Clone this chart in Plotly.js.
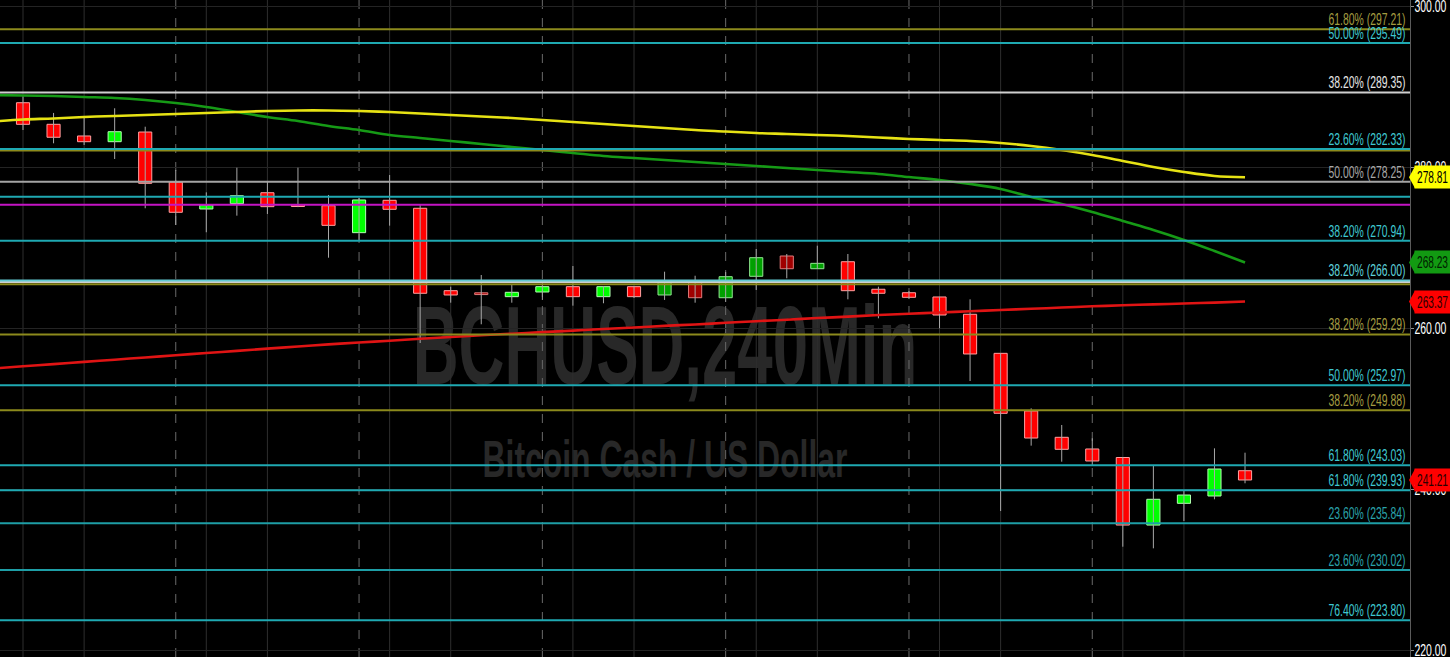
<!DOCTYPE html>
<html>
<head>
<meta charset="utf-8">
<script src="https://cdn.plot.ly/plotly-3.0.1.min.js"></script>
<style>
  html, body { margin:0; padding:0; background:#000; width:1450px; height:657px; overflow:hidden; }
  #wrap { position:relative; width:1450px; height:657px; }
  .wm { position:absolute; left:0; width:1330px; text-align:center; color:#282828; font-family:"Liberation Sans",Arial,sans-serif; font-weight:bold; white-space:nowrap; line-height:1; z-index:0; }
  #wm1 { top:290px; font-size:112px; transform:scale(0.567,1); transform-origin:50% 0; }
  #wm2 { top:433px; font-size:52px; transform:scale(0.613,1); transform-origin:50% 0; }
  #chart { position:absolute; left:0; top:0; z-index:1; }
</style>
</head>
<body>
<div id="wrap">
  <div class="wm" id="wm1">BCHUSD,240Min</div>
  <div class="wm" id="wm2">Bitcoin Cash / US Dollar</div>
  <div id="chart"></div>
</div>
<script>
// ---- data (4h candles, BCH/USD) ----
const open  = [288.07,285.39,283.94,283.23,284.43,278.22,274.87,275.53,276.89,275.37,275.28,271.93,275.95,274.96,264.72,264.31,263.98,264.56,265.22,263.98,265.22,264.19,265.84,263.85,266.51,269.03,267.45,268.32,264.90,264.47,263.94,261.79,256.94,249.78,246.51,245.06,244.00,235.61,238.31,239.22,242.36];
const high  = [288.91,286.80,286.34,287.38,285.09,279.71,276.94,280.00,278.22,280.00,276.61,276.24,279.09,275.37,265.22,266.67,265.43,265.68,267.79,265.30,265.30,267.08,266.58,267.04,269.90,269.28,270.31,269.28,265.22,264.68,263.94,263.65,256.94,250.11,248.04,246.39,244.06,243.07,239.96,245.14,244.60];
const low   = [284.68,283.03,282.82,281.08,274.96,272.88,271.98,274.04,274.25,275.10,268.82,271.02,272.80,258.22,263.23,260.55,263.23,263.57,262.86,263.16,263.81,263.57,263.23,263.32,264.81,266.26,267.45,263.65,261.29,263.69,260.05,253.50,237.35,245.47,243.48,243.07,232.92,232.72,236.11,238.81,240.80];
const close = [285.39,283.78,283.23,284.47,278.06,274.46,275.37,276.52,275.16,275.18,272.84,275.99,274.83,264.40,264.19,264.24,264.52,265.22,263.98,265.22,263.98,265.84,263.85,266.46,268.82,267.45,268.12,264.72,264.40,263.90,261.70,256.86,249.49,246.42,245.02,243.57,235.61,238.81,239.34,242.57,241.21];
// moving averages, first point is one bar before the first candle
const maYellow = [285.74,285.99,286.11,286.30,286.42,286.55,286.67,286.80,286.92,287.04,287.11,287.11,287.04,286.92,286.73,286.55,286.36,286.17,285.93,285.68,285.43,285.18,284.93,284.68,284.50,284.31,284.19,284.06,283.94,283.75,283.57,283.44,283.32,283.07,282.70,282.20,281.58,280.83,280.09,279.47,278.97,278.81];
const maGreen  = [289.03,288.97,288.91,288.78,288.66,288.41,288.04,287.54,286.92,286.30,285.80,285.18,284.68,284.06,283.69,283.32,282.95,282.57,282.20,281.83,281.45,281.20,280.96,280.71,280.46,280.21,279.96,279.71,279.47,279.22,278.84,278.47,277.98,277.36,276.36,275.49,274.50,273.38,272.26,271.02,269.65,268.23];
const maRed    = [255.06,255.33,255.60,255.88,256.15,256.43,256.70,256.98,257.24,257.52,257.78,258.05,258.29,258.51,258.75,258.97,259.18,259.38,259.57,259.76,259.96,260.15,260.35,260.53,260.73,260.93,261.12,261.32,261.50,261.70,261.85,262.01,262.16,262.32,262.47,262.63,262.78,262.91,263.02,263.13,263.24,263.37];
// Fibonacci retracement levels
const fibPrice = [297.21,295.49,289.35,282.33,278.25,270.94,266.00,259.29,252.97,249.88,243.03,239.93,235.84,230.02,223.80];
const fibPct   = ['61.80%','50.00%','38.20%','23.60%','50.00%','38.20%','38.20%','38.20%','50.00%','38.20%','61.80%','61.80%','23.60%','23.60%','76.40%'];
const fibKind  = ['olive','cyan','white','cyan','gray','cyan','lcyan','olive','cyan','olive','cyan','cyan','teal','teal','cyan'];
// other horizontal levels without labels
const extraPrice = [282.15,276.40,275.40,265.80,265.52];
const extraKind  = ['olive','cyan','magenta','white','olive'];
// price-axis ticks
const yTicks = [220,240,260,280,300];
// darker-shaded candles (bar index)
const darkBars = [15,21,22,23,24,25,26];
// vertical separators (bar index)
const daySep = [5,11,17,23,29,35];
const subSep = [0,2,6,8,12,14,18,20,24,26,30,32,36,38];

// ---- styles ----
const FONT = '"Liberation Sans",Arial,sans-serif';
const lineCol = {olive:'#8c8a1c', cyan:'#1fa9b2', white:'#cfcfcf', gray:'#a4a4a4', teal:'#1e9ea6', lcyan:'#62c9d2', magenta:'#c414c4'};
const textCol = {olive:'#a49c40', cyan:'#3fc9d2', white:'#e6e6e6', gray:'#a8a8a8', teal:'#2aa3ab', lcyan:'#5fd3dc'};

const xs = open.map((_, i) => i);
const maX = maYellow.map((_, i) => i - 1);

const wickX = [], wickY = [];
xs.forEach(i => { wickX.push(i, i, null); wickY.push(low[i], high[i], null); });

const bodyBase = xs.map(i => Math.min(open[i], close[i]));
const bodyH = xs.map(i => Math.max(Math.abs(close[i] - open[i]), 0.22));
const bodyFill = xs.map(i => {
  const up = close[i] >= open[i];
  const dark = darkBars.includes(i);
  return up ? (dark ? '#00a000' : '#00ff00') : (dark ? '#a00000' : '#ff0000');
});
const bodyEdge = xs.map(i => {
  const up = close[i] >= open[i];
  const dark = darkBars.includes(i);
  return up ? (dark ? '#90e890' : '#b0ffb0') : (dark ? '#e07a7a' : '#ffa0a0');
});

const traces = [
  {type:'scatter', mode:'lines', x:wickX, y:wickY, line:{color:'#a8a8a8', width:1}, hoverinfo:'skip'},
  {type:'bar', x:xs, y:bodyH, base:bodyBase, width:0.43,
   marker:{color:bodyFill, line:{color:bodyEdge, width:1}}, hoverinfo:'skip'},
  {type:'scatter', mode:'lines', x:maX, y:maRed, line:{color:'#e01414', width:2.6, shape:'spline'}, hoverinfo:'skip'},
  {type:'scatter', mode:'lines', x:maX, y:maGreen, line:{color:'#169a16', width:2.6, shape:'spline'}, hoverinfo:'skip'},
  {type:'scatter', mode:'lines', x:maX, y:maYellow, line:{color:'#e6e214', width:2.6, shape:'spline'}, hoverinfo:'skip'}
];

const shapes = [];
daySep.forEach(i => shapes.push({type:'line', layer:'below', xref:'x', yref:'paper', x0:i, x1:i, y0:0, y1:1, line:{color:'#6a6a6a', width:1, dash:'dash'}}));
subSep.forEach(i => shapes.push({type:'line', layer:'below', xref:'x', yref:'paper', x0:i, x1:i, y0:0, y1:1, line:{color:'#2e2e2e', width:1}}));
extraPrice.forEach((p, k) => shapes.push({type:'line', layer:'above', xref:'paper', yref:'y', x0:0, x1:1, y0:p, y1:p, line:{color:lineCol[extraKind[k]], width:2}}));
fibPrice.forEach((p, k) => shapes.push({type:'line', layer:'above', xref:'paper', yref:'y', x0:0, x1:1, y0:p, y1:p, line:{color:lineCol[fibKind[k]], width:2}}));

const PX = 1410; // plot width in px
const FIB_W = 78, TICK_W = 33, TAG_W = 31;
const annotations = fibPrice.map((p, k) => ({
  xref:'paper', yref:'y', x:1407/PX, y:p, xanchor:'right', yanchor:'bottom', yshift:0,
  width:FIB_W, borderpad:0,
  text: fibPct[k] + ' (' + p.toFixed(2) + ')', showarrow:false,
  font:{family:FONT, size:16, color:textCol[fibKind[k]]}
}));
const nFib = annotations.length;
yTicks.forEach(v => annotations.push({
  xref:'paper', yref:'y', x:1413/PX, y:v, xanchor:'left', yanchor:'middle',
  width:TICK_W, text:v.toFixed(2), showarrow:false, borderpad:0,
  font:{family:FONT, size:16, color:'#ffffff'}
}));
const nTick = annotations.length;

// last-value price tags
const tags = [
  {v: maYellow[maYellow.length-1], bg:'#ffff00', fg:'#000000'},
  {v: maGreen[maGreen.length-1], bg:'#129a12', fg:'#002000'},
  {v: maRed[maRed.length-1], bg:'#ff0000', fg:'#2a0000'},
  {v: close[close.length-1], bg:'#ff0000', fg:'#2a0000'}
];
const pxPerUnit = 657 / (300.83 - 219.22);
tags.forEach(t => {
  const h = 11 / pxPerUnit;
  shapes.push({type:'path', xref:'paper', yref:'y', layer:'above',
    path:`M ${1409/PX},${t.v} L ${1415/PX},${t.v + h} L ${1415/PX},${t.v - h} Z`,
    fillcolor:t.bg, line:{width:0}});
  annotations.push({xref:'paper', yref:'y', x:1414/PX, y:t.v, xanchor:'left', yanchor:'middle',
    text:t.v.toFixed(2), showarrow:false, bgcolor:t.bg, width:35, height:22, borderpad:0,
    font:{family:FONT, size:17, color:t.fg}});
});

const layout = {
  width:1450, height:657,
  margin:{l:0, r:40, t:0, b:0},
  paper_bgcolor:'rgba(0,0,0,0)', plot_bgcolor:'rgba(0,0,0,0)',
  showlegend:false, hovermode:false, bargap:0,
  xaxis:{range:[-0.753, 45.40], showgrid:false, zeroline:false, showticklabels:false, ticks:'', showline:false},
  yaxis:{range:[219.22, 300.83], side:'right', tickmode:'array', tickvals:yTicks, showticklabels:false,
    showgrid:true, gridcolor:'#242424', gridwidth:1, zeroline:false,
    showline:true, linecolor:'#5a5a5a', linewidth:1,
    ticks:'outside', ticklen:3, tickcolor:'#909090'},
  shapes, annotations
};

// narrow the label glyphs to the given width (the source uses a condensed face)
function squeezeTo(el, target) {
  const w = el.getComputedTextLength();
  if (!w || w <= target) return;
  el.setAttribute('textLength', target.toFixed(1));
  el.setAttribute('lengthAdjust', 'spacingAndGlyphs');
}

Plotly.newPlot('chart', traces, layout, {staticPlot:true, displayModeBar:false}).then(gd => {
  gd.querySelectorAll('g.annotation').forEach(g => {
    const idx = parseInt(g.getAttribute('data-index'), 10);
    const t = g.querySelector('text.annotation-text');
    if (!t) return;
    if (idx < nFib) squeezeTo(t, FIB_W - 1);
    else if (idx < nTick) squeezeTo(t, TICK_W - 1);
    else squeezeTo(t, TAG_W);
  });
});
</script>
</body>
</html>
